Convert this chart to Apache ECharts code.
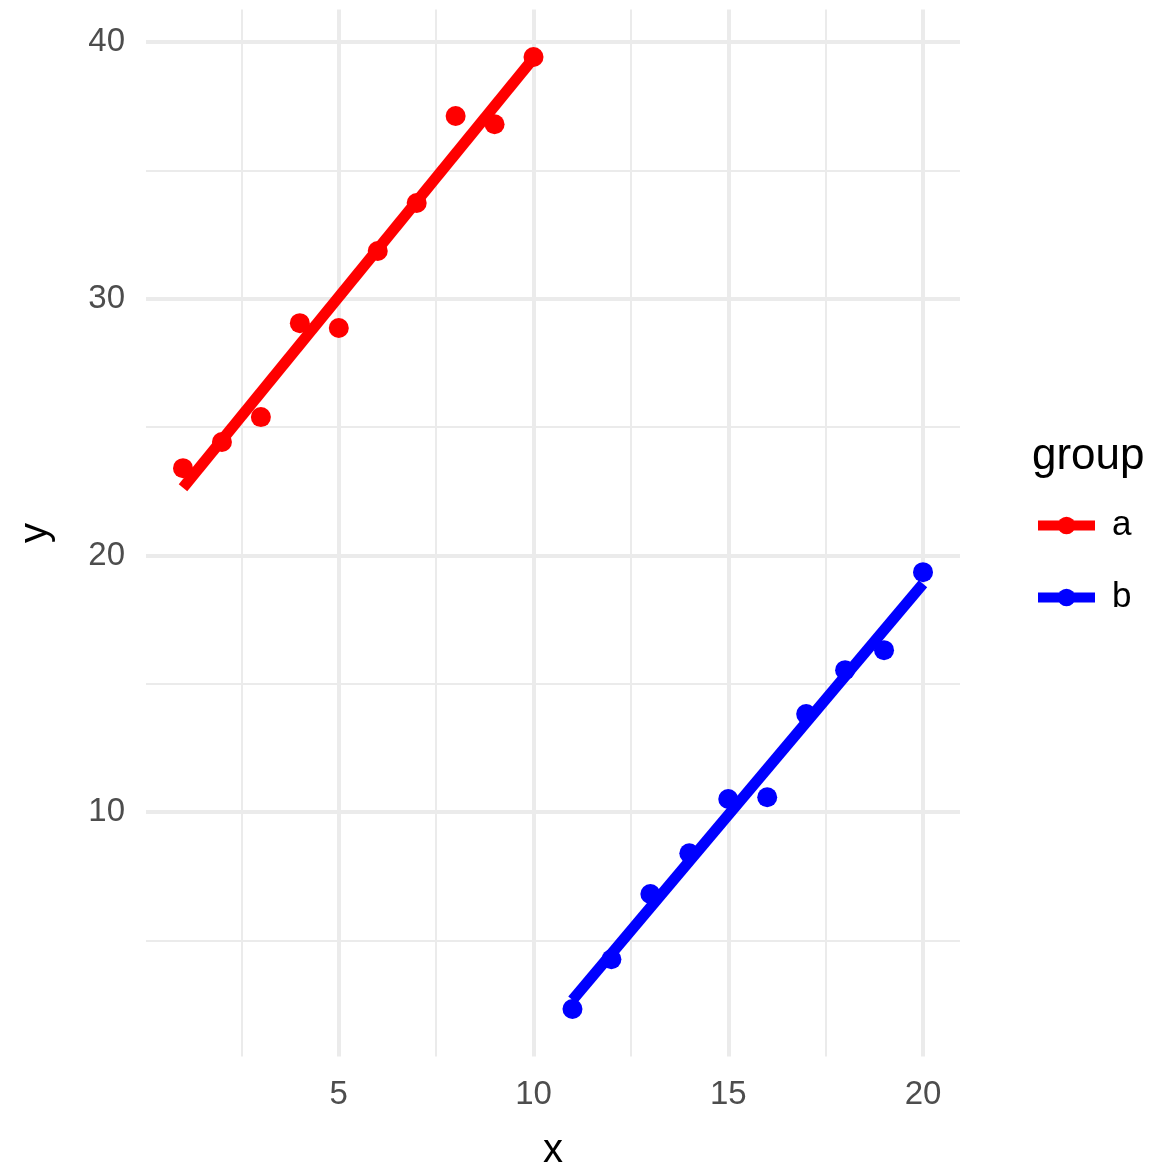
<!DOCTYPE html>
<html>
<head>
<meta charset="utf-8">
<script src="https://cdn.jsdelivr.net/npm/echarts@6/dist/echarts.min.js"></script>
<style>
  html, body { margin: 0; padding: 0; background: #ffffff; }
  #chart { width: 1174px; height: 1166px; }
</style>
</head>
<body>
<div id="chart"></div>
<script>
// ---- data ----
const groupNames = ['a', 'b'];
const xA = [1, 2, 3, 4, 5, 6, 7, 8, 9, 10];
const yA = [23.4, 24.42, 25.39, 29.05, 28.86, 31.86, 33.73, 37.12, 36.8, 39.42];
const xB = [11, 12, 13, 14, 15, 16, 17, 18, 19, 20];
const yB = [2.33, 4.27, 6.81, 8.4, 10.51, 10.58, 13.82, 15.53, 16.31, 19.35];
// fitted (lm) line end points
const fitXA = [1, 10];
const fitYA = [22.64, 39.37];
const fitXB = [11, 20];
const fitYB = [2.68, 18.9];
// axis ticks
const xMajor = [5, 10, 15, 20];
const xMinor = [2.5, 7.5, 12.5, 17.5];
const yMajor = [10, 20, 30, 40];
const yMinor = [5, 15, 25, 35];
const colors = ['#FF0000', '#0000FF'];

const zip = (xs, ys) => xs.map((x, i) => [x, ys[i]]);

const gridColor = '#EBEBEB';
const gridLines = [].concat(
  xMajor.map(v => ({ xAxis: v, lineStyle: { color: gridColor, width: 4, type: 'solid' } })),
  xMinor.map(v => ({ xAxis: v, lineStyle: { color: gridColor, width: 2, type: 'solid' } })),
  yMajor.map(v => ({ yAxis: v, lineStyle: { color: gridColor, width: 4, type: 'solid' } })),
  yMinor.map(v => ({ yAxis: v, lineStyle: { color: gridColor, width: 2, type: 'solid' } }))
);

const font = 'Liberation Sans, Arial, Helvetica, sans-serif';
const chart = echarts.init(document.getElementById('chart'), null, { renderer: 'canvas' });

const option = {
  animation: false,
  backgroundColor: '#ffffff',
  grid: { left: 146, right: 214, top: 9.5, bottom: 109.5, containLabel: false, outerBoundsMode: 'none' },
  title: {
    text: 'group',
    left: 1027,
    top: 430,
    textStyle: { fontFamily: font, fontSize: 44, fontWeight: 'normal', color: '#000000' }
  },
  legend: {
    orient: 'vertical',
    left: 1033,
    top: 508,
    padding: 0,
    itemWidth: 57,
    itemHeight: 22,
    itemGap: 37,
    data: groupNames,
    lineStyle: { width: 10 },
    textStyle: { fontFamily: font, fontSize: 35, color: '#000000', padding: [0, 0, 0, 12] }
  },
  xAxis: {
    type: 'value',
    min: 0.05,
    max: 20.95,
    name: 'x',
    nameLocation: 'middle',
    nameGap: 74,
    nameTextStyle: { fontFamily: font, fontSize: 40, color: '#000000' },
    axisLine: { show: false },
    axisTick: { show: false },
    splitLine: { show: false },
    axisLabel: {
      customValues: xMajor,
      margin: 22,
      fontFamily: font, fontSize: 33, color: '#4D4D4D'
    }
  },
  yAxis: {
    type: 'value',
    min: 0.48,
    max: 41.27,
    name: 'y',
    nameLocation: 'middle',
    nameGap: 90,
    nameTextStyle: { fontFamily: font, fontSize: 40, color: '#000000' },
    axisLine: { show: false },
    axisTick: { show: false },
    splitLine: { show: false },
    axisLabel: {
      customValues: yMajor,
      margin: 21,
      fontFamily: font, fontSize: 33, color: '#4D4D4D'
    }
  },
  series: [
    {
      name: groupNames[0], type: 'line', data: zip(fitXA, fitYA), symbol: 'circle', symbolSize: 19,
      showSymbol: false, itemStyle: { color: colors[0] },
      lineStyle: { color: colors[0], width: 11, cap: 'butt' }, z: 3
    },
    {
      name: groupNames[1], type: 'line', data: zip(fitXB, fitYB), symbol: 'circle', symbolSize: 19,
      showSymbol: false, itemStyle: { color: colors[1] },
      lineStyle: { color: colors[1], width: 11, cap: 'butt' }, z: 3
    },
    {
      name: groupNames[0], type: 'scatter', data: zip(xA, yA), symbol: 'circle', symbolSize: 20,
      itemStyle: { color: colors[0], opacity: 1 }, z: 2
    },
    {
      name: groupNames[1], type: 'scatter', data: zip(xB, yB), symbol: 'circle', symbolSize: 20,
      itemStyle: { color: colors[1], opacity: 1 }, z: 2
    },
    {
      name: 'grid',
      type: 'line',
      data: [],
      z: 0,
      silent: true,
      markLine: {
        silent: true,
        z: 0,
        symbol: ['none', 'none'],
        label: { show: false },
        emphasis: { disabled: true },
        data: gridLines
      }
    }
  ]
};
chart.setOption(option);
</script>
</body>
</html>
